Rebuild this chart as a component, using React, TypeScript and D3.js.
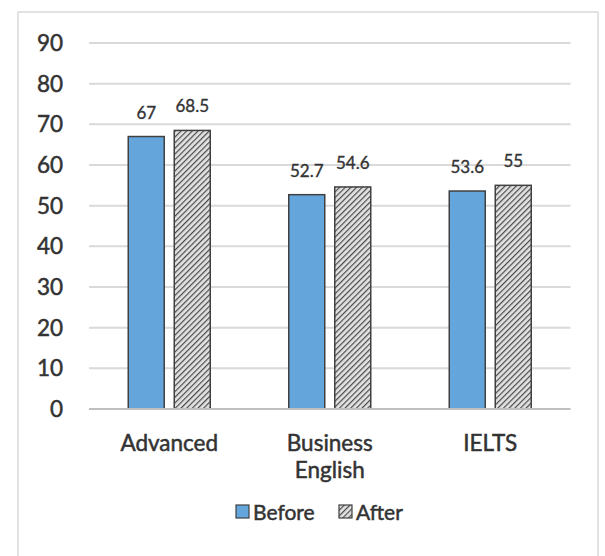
import React from "react";
import * as d3 from "d3";

const categories = [["Advanced"], ["Business", "English"], ["IELTS"]];
const seriesNames = ["Before", "After"];
const beforeValues = [67, 52.7, 53.6];
const afterValues = [68.5, 54.6, 55];
const yTicks = [0, 10, 20, 30, 40, 50, 60, 70, 80, 90];

const W = 605;
const H = 556;
const FONT = "Lato, 'Open Sans', sans-serif";
const TEXT = "#333333";
const BLUE = "#64a6dc";

const textStyle = { stroke: TEXT, strokeWidth: 0.5, paintOrder: "stroke" } as React.CSSProperties;

export default function App() {
  const x = d3
    .scaleBand<number>()
    .domain(d3.range(categories.length))
    .range([89, 570.5])
    .paddingInner(0)
    .paddingOuter(0);
  const y = d3.scaleLinear().domain([0, 90]).range([409, 43]);
  const barW = 36;
  const gap = 10;
  const series = [beforeValues, afterValues];

  return (
    <svg
      width={W}
      height={H}
      style={{ position: "absolute", left: 0, top: 0, background: "#fff" }}
      fontFamily={FONT}
    >
      <defs>
        <pattern
          id="hatch"
          patternUnits="userSpaceOnUse"
          width={4}
          height={4}
          patternTransform="rotate(45)"
        >
          <rect width={4} height={4} fill="#e2e2e2" />
          <line x1={0} y1={0} x2={0} y2={4} stroke="#4a4a4a" strokeWidth={2.4} />
        </pattern>
      </defs>
      <rect x={18} y={12} width={580} height={560} fill="#fff" stroke="#d9d9d9" strokeWidth={1.5} />

      {yTicks.map((t) => (
        <g key={t}>
          {t > 0 && (
            <line x1={89} x2={570.5} y1={y(t)} y2={y(t)} stroke="#d9d9d9" strokeWidth={2} />
          )}
          <text
            x={63}
            y={y(t)}
            dy="0.36em"
            textAnchor="end"
            fontSize={22.5}
            fill={TEXT}
            style={textStyle}
          >
            {t}
          </text>
        </g>
      ))}

      {categories.map((c, i) => {
        const cx = (x(i) as number) + x.bandwidth() / 2;
        return (
          <g key={i}>
            {series.map((vals, s) => {
              const bx = s === 0 ? cx - gap / 2 - barW : cx + gap / 2;
              const v = vals[i];
              return (
                <g key={s}>
                  <rect
                    x={bx}
                    y={y(v)}
                    width={barW}
                    height={y(0) - y(v)}
                    fill={s === 0 ? BLUE : "url(#hatch)"}
                    stroke="#404040"
                    strokeWidth={1.5}
                  />
                  <text
                    x={bx + barW / 2}
                    y={y(v) - 18}
                    textAnchor="middle"
                    fontSize={17}
                    fill={TEXT}
                    style={{ ...textStyle, strokeWidth: 0.35 }}
                  >
                    {v}
                  </text>
                </g>
              );
            })}
            {c.map((line, li) => (
              <text
                key={li}
                x={cx}
                y={451 + li * 27}
                textAnchor="middle"
                fontSize={22.5}
                fill={TEXT}
                style={textStyle}
              >
                {line}
              </text>
            ))}
          </g>
        );
      })}

      <line x1={89} x2={570.5} y1={y(0)} y2={y(0)} stroke="#bfbfbf" strokeWidth={2} />

      <g>
        <rect x={236} y={505} width={13} height={13} fill={BLUE} stroke="#404040" strokeWidth={1.2} />
        <text x={253} y={520} fontSize={21} fill={TEXT} style={textStyle}>
          {seriesNames[0]}
        </text>
        <rect x={339} y={505} width={13} height={13} fill="url(#hatch)" stroke="#404040" strokeWidth={1.2} />
        <text x={356} y={520} fontSize={21} fill={TEXT} style={textStyle}>
          {seriesNames[1]}
        </text>
      </g>
    </svg>
  );
}
